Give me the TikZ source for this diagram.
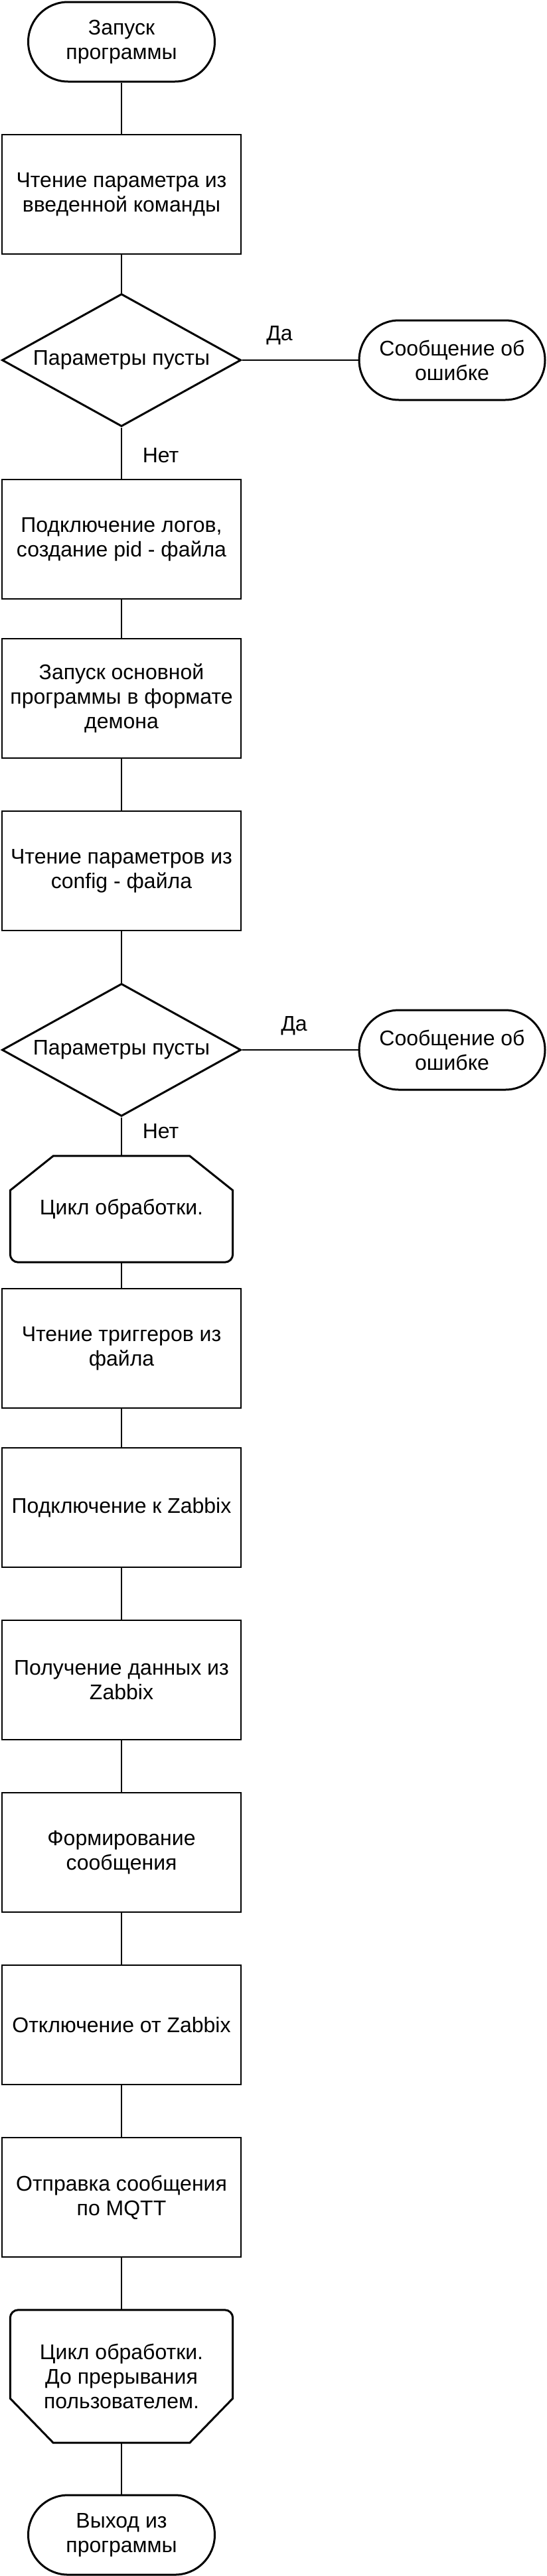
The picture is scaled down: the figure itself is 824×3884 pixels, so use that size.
\documentclass[tikz,border=0pt]{standalone}
\usepackage{fontspec}
\setmainfont{Liberation Sans}
\usetikzlibrary{shapes.geometric,calc}
\begin{document}
\begin{tikzpicture}[x=1pt,y=-1pt,
  every node/.style={font=\fontsize{32}{37}\selectfont, align=center, inner sep=0pt},
  proc/.style={draw, line width=2pt, minimum width=360pt, minimum height=180pt},
  term/.style={draw, line width=3pt, rounded corners=60pt, minimum width=281pt, minimum height=120pt},
  decision/.style={draw, line width=3pt, diamond, aspect=1.8, minimum width=360pt, minimum height=200pt},
  loopstart/.style={minimum width=335pt, minimum height=160pt},
  loopend/.style={minimum width=335pt, minimum height=200pt},
  shapeline/.style={line width=3pt, line join=miter},
  conn/.style={line width=2pt}]
\fill[white] (0,0) rectangle (824,3884);
\useasboundingbox (0,0) rectangle (824,3884);

\node[term] (s) at (183,63) {Запуск\\программы};
\node[proc] (b1) at (183,293) {Чтение параметра из\\введенной команды};
\node[decision] (d1) at (183,543) {Параметры пусты};
\node[term, minimum width=280pt] (e1) at (681,543) {Сообщение об\\ошибке};
\node (yes1) at (421,506) {Да};
\node (no1) at (242,687) {Нет};
\node[proc] (b2) at (183,813) {Подключение логов,\\создание pid - файла};
\node[proc] (b3) at (183,1053) {Запуск основной\\программы в формате\\демона};
\node[proc] (b4) at (183,1313) {Чтение параметров из\\config - файла};
\node[decision] (d2) at (183,1583) {Параметры пусты};
\node[term, minimum width=280pt] (e2) at (681,1583) {Сообщение об\\ошибке};
\node (yes2) at (443,1547) {Да};
\node (no2) at (242,1706) {Нет};
\node[loopstart] (ls) at (183,1823) {Цикл обработки.};
\node[proc] (ba) at (183,2033) {Чтение триггеров из\\файла};
\node[proc] (bb) at (183,2273) {Подключение к Zabbix};
\node[proc] (bc) at (183,2533) {Получение данных из\\Zabbix};
\node[proc] (bd) at (183,2793) {Формирование\\сообщения};
\node[proc] (be) at (183,3053) {Отключение от Zabbix};
\node[proc] (bf) at (183,3313) {Отправка сообщения\\по MQTT};
\node[loopend] (le) at (183,3583) {Цикл обработки.\\До прерывания\\пользователем.};
\node[term] (t) at (183,3822) {Выход из\\программы};

% loop start shape
\draw[shapeline] ($(ls.north west)+(65,0)$) -- ($(ls.north east)+(-65,0)$) -- ($(ls.north east)+(0,52)$)
  -- ($(ls.south east)+(0,-12)$) .. controls ($(ls.south east)+(0,-5.4)$) and ($(ls.south east)+(-5.4,0)$) .. ($(ls.south east)+(-12,0)$)
  -- ($(ls.south west)+(12,0)$) .. controls ($(ls.south west)+(5.4,0)$) and ($(ls.south west)+(0,-5.4)$) .. ($(ls.south west)+(0,-12)$)
  -- ($(ls.north west)+(0,52)$) -- cycle;
% loop end shape
\draw[shapeline] ($(le.south west)+(65,0)$) -- ($(le.south west)+(0,-67)$)
  -- ($(le.north west)+(0,12)$) .. controls ($(le.north west)+(0,5.4)$) and ($(le.north west)+(5.4,0)$) .. ($(le.north west)+(12,0)$)
  -- ($(le.north east)+(-12,0)$) .. controls ($(le.north east)+(-5.4,0)$) and ($(le.north east)+(0,5.4)$) .. ($(le.north east)+(0,12)$)
  -- ($(le.south east)+(0,-67)$) -- ($(le.south east)+(-65,0)$) -- cycle;

\draw[conn] (s.south) -- (b1.north);
\draw[conn] (b1.south) -- (d1.north);
\draw[conn] (d1.east) -- (e1.west);
\draw[conn] (d1.south) -- (b2.north);
\draw[conn] (b2.south) -- (b3.north);
\draw[conn] (b3.south) -- (b4.north);
\draw[conn] (b4.south) -- (d2.north);
\draw[conn] (d2.east) -- (e2.west);
\draw[conn] (d2.south) -- (ls.north);
\draw[conn] (ls.south) -- (ba.north);
\draw[conn] (ba.south) -- (bb.north);
\draw[conn] (bb.south) -- (bc.north);
\draw[conn] (bc.south) -- (bd.north);
\draw[conn] (bd.south) -- (be.north);
\draw[conn] (be.south) -- (bf.north);
\draw[conn] (bf.south) -- (le.north);
\draw[conn] (le.south) -- (t.north);
\end{tikzpicture}
\end{document}
